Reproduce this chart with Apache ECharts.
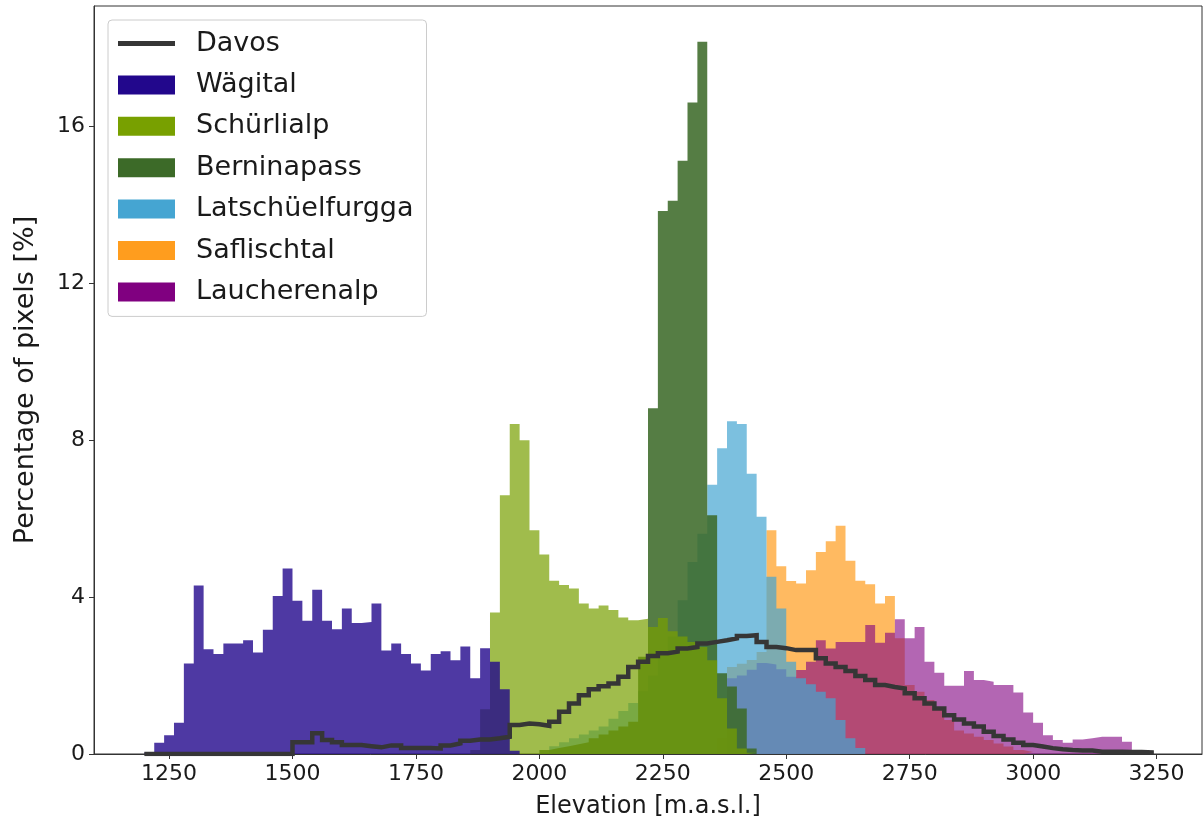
<!DOCTYPE html>
<html>
<head>
<meta charset="utf-8">
<script src="https://cdn.jsdelivr.net/npm/echarts@6/dist/echarts.min.js"></script>
<style>
  html, body { margin: 0; padding: 0; background: #ffffff; }
  #chart { width: 1203px; height: 827px; }
</style>
</head>
<body>
<div id="chart"></div>
<script>
// Elevation histograms, 20 m bins; each list starts at the given lower bin edge (m a.s.l.)
const BIN_WIDTH = 20;

const davosStart = 1200;
const davosValues = [
  0, 0, 0, 0, 0, 0, 0, 0, 0, 0, 0, 0, 0, 0, 0,
  0.30, 0.30, 0.53, 0.36, 0.30,
  0.23, 0.23, 0.20, 0.17, 0.22, 0.22, 0.15, 0.15, 0.15, 0.14,
  0.22, 0.27, 0.34, 0.37, 0.37, 0.40, 0.44, 0.74, 0.78, 0.76,
  0.72, 0.82, 1.08, 1.29, 1.50, 1.65, 1.73, 1.80, 1.97, 2.22,
  2.35, 2.50, 2.57, 2.61, 2.69, 2.73, 2.82, 2.86, 2.90, 2.95,
  3.01, 3.03, 2.86, 2.73, 2.70, 2.65, 2.65, 2.65, 2.44, 2.31,
  2.22, 2.12, 1.99, 1.89, 1.76, 1.71, 1.67, 1.55, 1.42, 1.29,
  1.16, 0.99, 0.88, 0.78, 0.70, 0.57, 0.46, 0.37, 0.29, 0.23,
  0.19, 0.15, 0.12, 0.10, 0.09, 0.09, 0.06, 0.06, 0.06, 0.05,
  0.05, 0.04
];

const waegitalStart = 1200;
const waegitalValues = [
  0.04, 0.29, 0.48, 0.80, 2.31, 4.30, 2.67, 2.55, 2.82, 2.82,
  2.90, 2.59, 3.17, 4.03, 4.73, 3.91, 3.40, 4.19, 3.40, 3.18,
  3.71, 3.34, 3.37, 3.84, 2.64, 2.82, 2.55, 2.31, 2.13, 2.55,
  2.62, 2.39, 2.74, 1.93, 2.70, 2.35, 1.65, 0.08
];

const schuerlialpStart = 1860;
const schuerlialpValues = [
  0.10, 1.14, 3.61, 6.60, 8.42, 8.00, 5.71, 5.09, 4.42, 4.31,
  4.22, 3.84, 3.71, 3.79, 3.67, 3.48, 3.41, 3.45, 3.24, 3.47,
  3.13, 3.00, 2.86, 2.73, 2.39, 1.42, 0.65, 0.14, 0.03
];

const berninapassStart = 2000;
const berninapassValues = [
  0.10, 0.15, 0.20, 0.25, 0.30, 0.40, 0.50, 0.60, 0.70, 0.82,
  2.48, 8.82, 13.85, 14.11, 15.13, 16.62, 18.17, 6.09, 2.06, 1.72,
  1.16, 0.14
];

const latschuelfurggaStart = 2020;
const latschuelfurggaValues = [
  0.20, 0.30, 0.40, 0.50, 0.60, 0.70, 0.90, 1.10, 1.30, 1.60,
  2.00, 2.50, 3.00, 3.92, 4.90, 5.62, 6.87, 7.80, 8.49, 8.42,
  7.15, 6.05, 4.52, 3.71, 2.35, 1.93, 1.78, 1.59, 1.42, 0.87,
  0.40, 0.15
];

const saflischtalStart = 2360;
const saflischtalValues = [
  0.40, 2.22, 2.30, 2.40, 2.60, 5.71, 4.79, 4.41, 4.35, 4.69,
  5.15, 5.43, 5.82, 4.93, 4.42, 4.33, 3.84, 4.03, 2.95, 1.76,
  1.59, 1.38, 1.12, 0.87, 0.60, 0.52, 0.44, 0.36, 0.27, 0.19,
  0.10, 0.05
];

const laucherenalpStart = 2380;
const laucherenalpValues = [
  1.93, 2.00, 2.15, 2.32, 2.28, 2.16, 1.97, 2.14, 2.35, 2.90,
  2.69, 2.86, 2.86, 2.86, 3.29, 2.84, 3.09, 3.44, 2.95, 3.24,
  2.35, 2.07, 1.74, 1.74, 2.12, 1.89, 1.84, 1.76, 1.76, 1.57,
  1.06, 0.80, 0.48, 0.36, 0.29, 0.37, 0.40, 0.44, 0.44, 0.44,
  0.31
];

const xTickValues = [1250, 1500, 1750, 2000, 2250, 2500, 2750, 3000, 3250];
const yTickValues = [0, 4, 8, 12, 16];

// Bin edges -> step points; the last point closes the histogram back to zero
function stepPoints(start, values) {
  const pts = values.map((v, i) => [start + i * BIN_WIDTH, v]);
  pts.push([start + values.length * BIN_WIDTH, 0]);
  return pts;
}

const FONT = 'DejaVu Sans';
const TEXT = '#1a1a1a';
const AXIS = '#333333';

// Filled histograms, listed bottom layer first
const sites = [
  { name: 'Saflischtal',     color: '#ff9d1e', alpha: 0.70, start: saflischtalStart,     values: saflischtalValues },
  { name: 'Laucherenalp',    color: '#800080', alpha: 0.60, start: laucherenalpStart,    values: laucherenalpValues },
  { name: 'Latschüelfurgga', color: '#45a5d2', alpha: 0.70, start: latschuelfurggaStart, values: latschuelfurggaValues },
  { name: 'Berninapass',     color: '#3c6a28', alpha: 0.87, start: berninapassStart,     values: berninapassValues },
  { name: 'Schürlialp',      color: '#78a000', alpha: 0.70, start: schuerlialpStart,     values: schuerlialpValues },
  { name: 'Wägital',         color: '#22078c', alpha: 0.80, start: waegitalStart,        values: waegitalValues }
];

const series = sites.map(s => ({
  name: s.name,
  type: 'line',
  step: 'end',
  data: stepPoints(s.start, s.values),
  symbol: 'none',
  showSymbol: false,
  lineStyle: { width: 0, opacity: 0 },
  itemStyle: { color: s.color },
  areaStyle: { color: s.color, opacity: s.alpha },
  emphasis: { disabled: true },
  silent: true
}));

series.push({
  name: 'Davos',
  type: 'line',
  step: 'end',
  data: stepPoints(davosStart, davosValues),
  symbol: 'none',
  showSymbol: false,
  lineStyle: { color: '#363636', width: 4.5, join: 'miter', cap: 'butt' },
  itemStyle: { color: '#363636' },
  emphasis: { disabled: true },
  silent: true,
  z: 5
});

const legendOrder = ['Davos', 'Wägital', 'Schürlialp', 'Berninapass', 'Latschüelfurgga', 'Saflischtal', 'Laucherenalp'];
const legendData = legendOrder.map(name => {
  if (name === 'Davos') {
    return { name, icon: 'path://M0,0H57V5H0Z', itemStyle: { color: '#363636', opacity: 1, borderWidth: 0 } };
  }
  const s = sites.find(t => t.name === name);
  return { name, icon: 'rect', itemStyle: { color: s.color, opacity: 1, borderWidth: 0 } };
});

const plainNumber = v => String(v);

const chart = echarts.init(document.getElementById('chart'), null, { renderer: 'canvas' });
chart.setOption({
  animation: false,
  backgroundColor: '#ffffff',
  grid: { left: 94, right: 1, top: 6, bottom: 73, show: true, borderColor: AXIS, borderWidth: 1, backgroundColor: 'transparent' },
  legend: {
    orient: 'vertical',
    left: 108,
    top: 20,
    padding: [10, 13, 11, 10],
    itemWidth: 57,
    itemHeight: 19,
    itemGap: 14.4,
    backgroundColor: 'rgba(255,255,255,0.8)',
    borderColor: '#cccccc',
    borderWidth: 1,
    borderRadius: 4,
    selectedMode: false,
    textStyle: { fontFamily: FONT, fontSize: 27, color: TEXT, padding: [0, 0, 0, 16] },
    data: legendData
  },
  xAxis: {
    type: 'value',
    min: 1098,
    max: 3342,
    name: 'Elevation [m.a.s.l.]',
    nameLocation: 'middle',
    nameGap: 41,
    nameTextStyle: { fontFamily: FONT, fontSize: 24, color: TEXT },
    axisLine: { show: true, lineStyle: { color: AXIS, width: 1 } },
    axisTick: { show: true, length: 5, lineStyle: { color: AXIS, width: 1 }, customValues: xTickValues },
    axisLabel: { customValues: xTickValues, formatter: plainNumber, margin: 9, fontFamily: FONT, fontSize: 22, color: TEXT },
    splitLine: { show: false }
  },
  yAxis: {
    type: 'value',
    min: 0,
    max: 19.08,
    name: 'Percentage of pixels [%]',
    nameLocation: 'middle',
    nameGap: 55,
    nameRotate: 90,
    nameTextStyle: { fontFamily: FONT, fontSize: 27, color: TEXT },
    axisLine: { show: true, lineStyle: { color: AXIS, width: 1 } },
    axisTick: { show: true, length: 5, lineStyle: { color: AXIS, width: 1 }, customValues: yTickValues },
    axisLabel: { customValues: yTickValues, formatter: plainNumber, margin: 9, fontFamily: FONT, fontSize: 22, color: TEXT },
    splitLine: { show: false }
  },
  series: series
});
</script>
</body>
</html>
